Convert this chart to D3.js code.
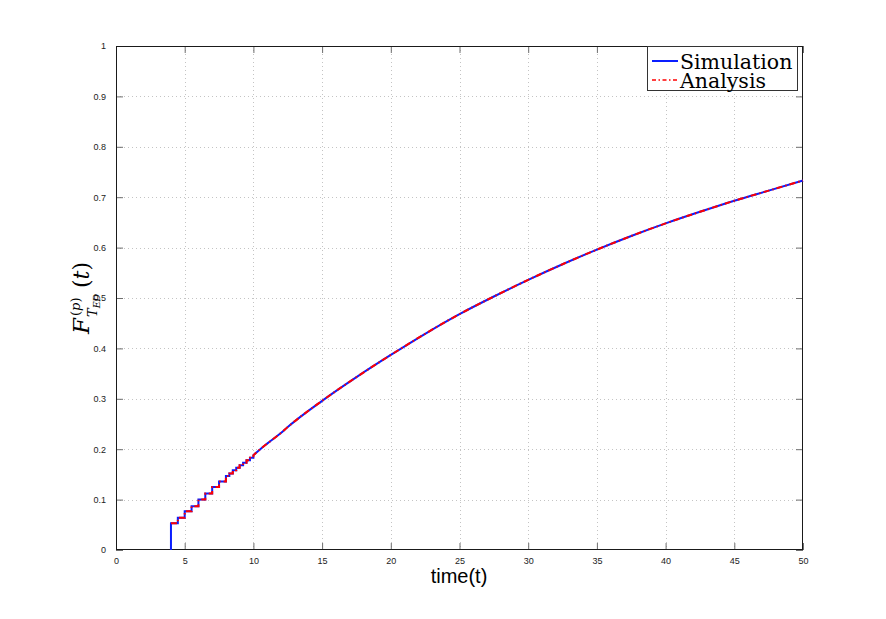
<!DOCTYPE html>
<html>
<head>
<meta charset="utf-8">
<script src="https://cdn.jsdelivr.net/npm/d3@7"></script>
<style>
  html, body { margin: 0; padding: 0; background: #fff; }
  svg { display: block; }
</style>
</head>
<body>
<svg id="chart" width="886" height="619"></svg>
<script>
// ---- data ----
const xTicks = [0, 5, 10, 15, 20, 25, 30, 35, 40, 45, 50];
const yTicks = [0, 0.1, 0.2, 0.3, 0.4, 0.5, 0.6, 0.7, 0.8, 0.9, 1];
const yTickLabels = ["0", "0.1", "0.2", "0.3", "0.4", "0.5", "0.6", "0.7", "0.8", "0.9", "1"];

// staircase part (step after)
const stepT = [4, 4, 4.5, 5, 5.5, 6, 6.5, 7, 7.5, 8, 8.25, 8.5, 8.75, 9, 9.25, 9.5, 9.75, 10];
const stepF = [0, 0.053, 0.064, 0.077, 0.087, 0.100, 0.112, 0.125, 0.136, 0.147, 0.152, 0.158, 0.163, 0.168, 0.173, 0.178, 0.183, 0.188];

// smooth part
const smoothT = [10, 10.5, 11, 12, 12.5, 15, 17.5, 20, 22.5, 25, 27.5, 30, 32.5, 35, 37.5, 40, 42.5, 45, 47.5, 50];
const smoothF = [0.188, 0.200, 0.211, 0.232, 0.244, 0.296, 0.343, 0.387, 0.429, 0.468, 0.503, 0.536, 0.567, 0.596, 0.623, 0.648, 0.671, 0.693, 0.713, 0.733];

const seriesNames = ["Simulation", "Analysis"];
const seriesColors = ["#0a1eff", "#ff0000"];

// ---- layout ----
const svg = d3.select("#chart");
const L = 116, T = 46, W = 687, H = 504;
const x = d3.scaleLinear().domain([0, 50]).range([L, L + W]);
const y = d3.scaleLinear().domain([0, 1]).range([T + H, T]);

svg.append("rect").attr("x", 0).attr("y", 0).attr("width", 886).attr("height", 619).attr("fill", "#fff");

// grid
const grid = svg.append("g").attr("stroke", "#c4c4c4").attr("stroke-width", 1).attr("stroke-dasharray", "1,3");
xTicks.slice(1, -1).forEach(t => {
  grid.append("line").attr("x1", Math.round(x(t)) + 0.5).attr("x2", Math.round(x(t)) + 0.5)
    .attr("y1", T).attr("y2", T + H);
});
yTicks.slice(1, -1).forEach(t => {
  grid.append("line").attr("y1", Math.round(y(t)) + 0.5).attr("y2", Math.round(y(t)) + 0.5)
    .attr("x1", L).attr("x2", L + W);
});

// axes via d3 axis, ticks inside
const tickStyle = g => {
  g.select(".domain").remove();
  g.selectAll(".tick line").attr("stroke", "#6e6e6e");
  g.selectAll(".tick text").attr("font-family", "'Liberation Sans', Arial, sans-serif").attr("font-size", 9).attr("fill", "#222");
};
svg.append("g").attr("transform", `translate(0,${T + H})`)
  .call(d3.axisBottom(x).tickValues(xTicks).tickFormat(d3.format("d")).tickSizeInner(-7).tickPadding(8))
  .call(tickStyle);
svg.append("g").attr("transform", `translate(0,${T})`)
  .call(d3.axisTop(x).tickValues(xTicks).tickFormat("").tickSizeInner(-7))
  .call(tickStyle);
svg.append("g").attr("transform", `translate(${L},0)`)
  .call(d3.axisLeft(y).tickValues(yTicks).tickFormat((d, i) => yTickLabels[i]).tickSizeInner(-7).tickPadding(10))
  .call(tickStyle);
svg.append("g").attr("transform", `translate(${L + W},0)`)
  .call(d3.axisRight(y).tickValues(yTicks).tickFormat("").tickSizeInner(-7))
  .call(tickStyle);

// box
svg.append("rect").attr("x", L + 0.5).attr("y", T + 0.5).attr("width", W - 1).attr("height", H - 1)
  .attr("fill", "none").attr("stroke", "#1a1a1a").attr("stroke-width", 1);

// curves
const stepLine = d3.line().x(d => x(d[0])).y(d => y(d[1])).curve(d3.curveStepAfter);
const smoothLine = d3.line().x(d => x(d[0])).y(d => y(d[1])).curve(d3.curveMonotoneX);
const stepPts = stepT.map((t, i) => [t, stepF[i]]);
const smoothPts = smoothT.map((t, i) => [t, smoothF[i]]);

svg.append("path").attr("d", stepLine(stepPts) + "L" + smoothLine(smoothPts).slice(1))
  .attr("fill", "none").attr("stroke", seriesColors[0]).attr("stroke-width", 2).attr("stroke-linejoin", "miter");
svg.append("path").attr("d", stepLine(stepPts.slice(1)) + "L" + smoothLine(smoothPts).slice(1))
  .attr("fill", "none").attr("stroke", seriesColors[1]).attr("stroke-width", 2)
  .attr("stroke-dasharray", "6,3,1.5,3");

// legend
const lg = svg.append("g");
lg.append("rect").attr("x", 647.5).attr("y", 46.5).attr("width", 150).attr("height", 44)
  .attr("fill", "#fff").attr("stroke", "#333").attr("stroke-width", 1);
[61, 80].forEach((ly, i) => {
  lg.append("line").attr("x1", 652).attr("x2", 678).attr("y1", ly).attr("y2", ly)
    .attr("stroke", seriesColors[i]).attr("stroke-width", i === 0 ? 2 : 1.5)
    .attr("stroke-dasharray", i === 0 ? null : "4,2.5,1.5,2.5");
  lg.append("text").attr("x", 680).attr("y", ly + 7.5)
    .attr("font-family", "'DejaVu Serif', serif").attr("font-size", 20.5).attr("fill", "#000")
    .text(seriesNames[i]);
});

// x label
svg.append("text").attr("x", 459).attr("y", 583).attr("text-anchor", "middle")
  .attr("font-family", "'Liberation Sans', Arial, sans-serif").attr("font-size", 20).attr("fill", "#000")
  .text("time(t)");

// y label (math): F_{T_{ED}}^{(p)}(t)
const ylg = svg.append("g").attr("transform", "translate(89,334) rotate(-90)")
  .attr("font-family", "'DejaVu Serif', serif").attr("fill", "#000");
ylg.append("text").attr("x", 0).attr("y", 0).attr("font-size", 23).attr("font-style", "italic").text("F");
ylg.append("text").attr("x", 18).attr("y", -9).attr("font-size", 13)
  .call(t => { t.append("tspan").text("("); t.append("tspan").attr("font-style", "italic").text("p"); t.append("tspan").text(")"); });
ylg.append("text").attr("x", 17).attr("y", 8).attr("font-size", 13).attr("font-style", "italic")
  .call(t => { t.append("tspan").text("T"); t.append("tspan").attr("font-size", 9.5).attr("dy", 2.5).text("ED"); });
ylg.append("text").attr("x", 46).attr("y", 0).attr("font-size", 22)
  .call(t => { t.append("tspan").text("("); t.append("tspan").attr("font-style", "italic").text("t"); t.append("tspan").text(")"); });
</script>
</body>
</html>
